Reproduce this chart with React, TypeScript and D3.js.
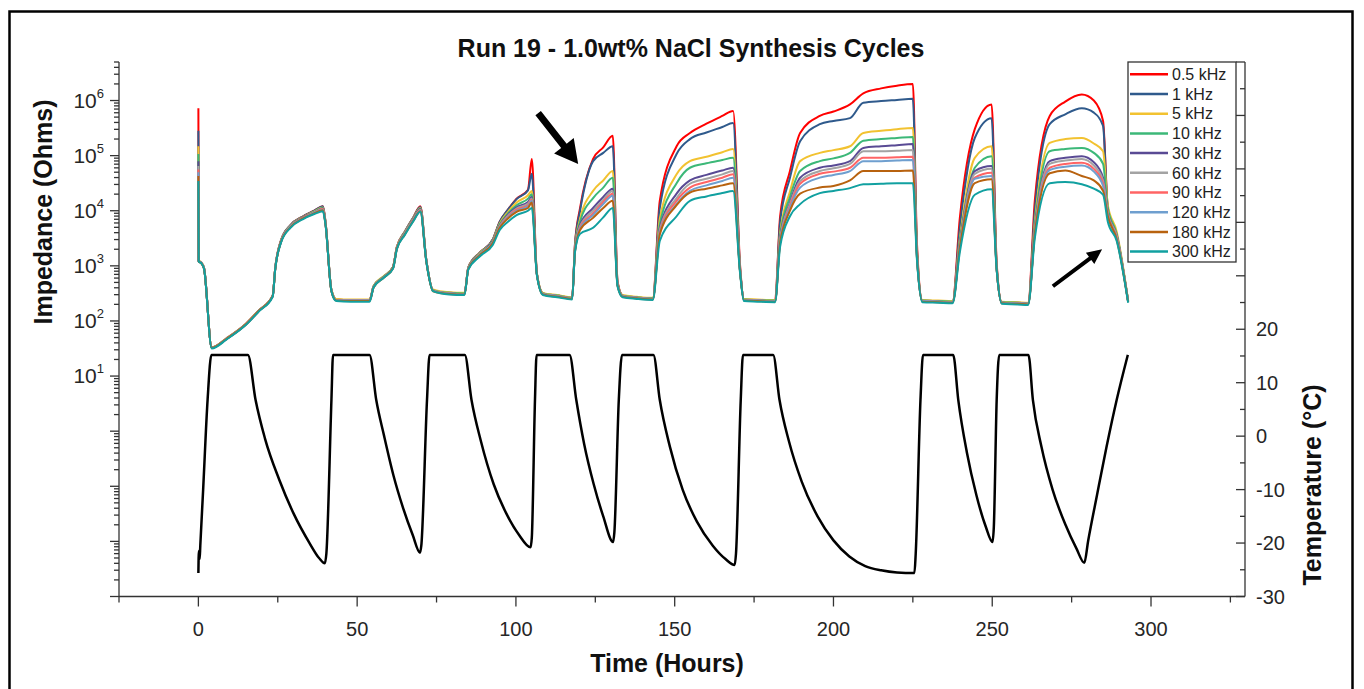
import * as d3 from "d3";

// time axis shared by all impedance series (hours)
const hours = [0, 0.1, 1.0, 1.8, 4.2, 9, 15, 19, 23.4,
  24.2, 26, 29, 33, 36.5, 39.2, 40, 41.9, 43.4, 48, 53.9,
  55.2, 58.5, 61.3, 62.5, 65, 67.6, 69.9, 71.8, 73.9, 79, 83.8,
  85, 88.6, 92.7, 94.9, 97.5, 100.2, 103.8, 105, 106.6, 108.5, 113, 117.7,
  118.6, 120.2, 124.3, 127.5, 130.5, 132, 133.6, 138, 143.1,
  145.3, 150.6, 154.8, 160, 165, 168.4, 170.6, 171.8, 176, 181.6,
  183.2, 186.3, 189.5, 195.7, 200, 205.2, 209.4, 215, 220, 225, 226.3, 228, 233, 237.5,
  239.8, 244.5, 249.8, 251.4, 253, 258, 261.3,
  263.4, 268.1, 273, 278.2, 282, 284.9, 286.4, 289.2, 292.8];

// impedance, log10(Ohms)
const z05 = [5.86, 3.09, 3.05, 2.95, 1.52, 1.69, 1.95, 2.19, 2.46,
  2.96, 3.46, 3.74, 3.90, 4.00, 4.08, 3.82, 2.56, 2.39, 2.38, 2.38,
  2.63, 2.81, 2.98, 3.34, 3.62, 3.87, 4.08, 3.10, 2.56, 2.51, 2.50,
  2.97, 3.24, 3.48, 3.80, 4.02, 4.22, 4.38, 4.94, 2.86, 2.50, 2.46, 2.42,
  3.40, 4.05, 4.94, 5.15, 5.36, 2.72, 2.46, 2.43, 2.41,
  4.18, 5.17, 5.41, 5.58, 5.72, 5.81, 3.00, 2.39, 2.38, 2.37,
  3.90, 4.72, 5.41, 5.72, 5.80, 5.93, 6.13, 6.22, 6.27, 6.30, 3.40, 2.37, 2.36, 2.35,
  3.87, 5.48, 5.93, 3.05, 2.34, 2.33, 2.32,
  4.18, 5.72, 5.98, 6.11, 6.00, 5.63, 4.05, 3.55, 2.36];
const z1 = [5.45, 3.09, 3.05, 2.95, 1.52, 1.69, 1.95, 2.19, 2.46,
  2.96, 3.46, 3.74, 3.90, 4.00, 4.08, 3.81, 2.56, 2.39, 2.38, 2.38,
  2.63, 2.81, 2.98, 3.34, 3.62, 3.87, 4.07, 3.10, 2.56, 2.51, 2.50,
  2.97, 3.24, 3.48, 3.80, 4.02, 4.21, 4.37, 4.67, 2.86, 2.50, 2.46, 2.42,
  3.38, 4.00, 4.90, 5.05, 5.17, 2.70, 2.46, 2.43, 2.41,
  4.05, 5.03, 5.30, 5.42, 5.52, 5.59, 2.95, 2.39, 2.38, 2.37,
  3.80, 4.60, 5.26, 5.57, 5.63, 5.68, 5.96, 5.99, 6.01, 6.03, 3.30, 2.37, 2.36, 2.35,
  3.70, 5.32, 5.68, 3.00, 2.34, 2.33, 2.32,
  4.00, 5.57, 5.75, 5.86, 5.78, 5.54, 4.02, 3.55, 2.36];
const z5 = [5.17, 3.10, 3.06, 2.96, 1.52, 1.69, 1.95, 2.19, 2.46,
  2.96, 3.45, 3.73, 3.89, 3.99, 4.06, 3.80, 2.57, 2.40, 2.39, 2.39,
  2.64, 2.82, 2.98, 3.34, 3.61, 3.86, 4.05, 3.10, 2.57, 2.52, 2.51,
  2.97, 3.23, 3.46, 3.77, 3.98, 4.15, 4.28, 4.36, 2.87, 2.51, 2.47, 2.43,
  3.34, 3.85, 4.36, 4.55, 4.72, 2.68, 2.47, 2.44, 2.42,
  3.85, 4.66, 4.90, 4.98, 5.06, 5.12, 2.92, 2.40, 2.39, 2.38,
  3.60, 4.35, 4.90, 5.05, 5.10, 5.17, 5.41, 5.45, 5.48, 5.50, 3.25, 2.38, 2.37, 2.36,
  3.50, 4.96, 5.17, 2.98, 2.35, 2.34, 2.33,
  3.80, 5.23, 5.30, 5.32, 5.22, 5.08, 4.10, 3.62, 2.37];
const z10 = [5.03, 3.09, 3.05, 2.95, 1.51, 1.68, 1.94, 2.18, 2.45,
  2.95, 3.45, 3.73, 3.88, 3.98, 4.05, 3.80, 2.56, 2.38, 2.37, 2.38,
  2.63, 2.81, 2.98, 3.33, 3.60, 3.85, 4.04, 3.09, 2.56, 2.51, 2.50,
  2.96, 3.22, 3.45, 3.75, 3.95, 4.10, 4.22, 4.30, 2.86, 2.50, 2.46, 2.42,
  3.32, 3.80, 4.23, 4.42, 4.60, 2.67, 2.46, 2.43, 2.41,
  3.75, 4.50, 4.78, 4.86, 4.92, 4.96, 2.92, 2.39, 2.38, 2.37,
  3.55, 4.25, 4.72, 4.90, 4.95, 5.05, 5.27, 5.30, 5.32, 5.34, 3.22, 2.37, 2.36, 2.35,
  3.45, 4.78, 4.99, 2.97, 2.34, 2.33, 2.32,
  3.72, 5.08, 5.12, 5.14, 5.05, 4.85, 4.05, 3.58, 2.36];
const z30 = [4.90, 3.09, 3.05, 2.95, 1.51, 1.68, 1.94, 2.18, 2.45,
  2.95, 3.44, 3.72, 3.88, 3.97, 4.04, 3.79, 2.55, 2.38, 2.37, 2.37,
  2.62, 2.80, 2.97, 3.33, 3.59, 3.84, 4.03, 3.09, 2.55, 2.50, 2.49,
  2.96, 3.21, 3.44, 3.73, 3.93, 4.06, 4.16, 4.25, 2.85, 2.49, 2.45, 2.41,
  3.30, 3.75, 4.05, 4.25, 4.40, 2.66, 2.45, 2.42, 2.40,
  3.68, 4.31, 4.55, 4.65, 4.73, 4.78, 2.90, 2.38, 2.37, 2.36,
  3.50, 4.15, 4.60, 4.78, 4.82, 4.90, 5.14, 5.17, 5.19, 5.21, 3.20, 2.36, 2.35, 2.34,
  3.40, 4.72, 4.81, 2.95, 2.33, 2.32, 2.31,
  3.66, 4.90, 4.96, 4.99, 4.88, 4.60, 3.98, 3.55, 2.35];
const z60 = [4.81, 3.09, 3.05, 2.95, 1.51, 1.68, 1.94, 2.18, 2.45,
  2.95, 3.44, 3.72, 3.87, 3.97, 4.03, 3.79, 2.55, 2.38, 2.37, 2.37,
  2.62, 2.80, 2.97, 3.32, 3.59, 3.83, 4.02, 3.08, 2.55, 2.50, 2.49,
  2.95, 3.21, 3.43, 3.72, 3.91, 4.04, 4.13, 4.22, 2.85, 2.49, 2.45, 2.41,
  3.29, 3.72, 4.00, 4.20, 4.36, 2.66, 2.45, 2.42, 2.40,
  3.65, 4.23, 4.49, 4.58, 4.66, 4.72, 2.90, 2.38, 2.37, 2.36,
  3.48, 4.12, 4.54, 4.72, 4.77, 4.85, 5.08, 5.08, 5.09, 5.10, 3.18, 2.36, 2.35, 2.34,
  3.38, 4.67, 4.76, 2.95, 2.33, 2.32, 2.31,
  3.64, 4.85, 4.91, 4.94, 4.82, 4.55, 3.96, 3.54, 2.35];
const z90 = [4.75, 3.09, 3.05, 2.95, 1.51, 1.68, 1.94, 2.18, 2.45,
  2.95, 3.44, 3.71, 3.87, 3.96, 4.03, 3.78, 2.55, 2.38, 2.37, 2.37,
  2.62, 2.80, 2.96, 3.32, 3.58, 3.83, 4.01, 3.08, 2.55, 2.50, 2.49,
  2.95, 3.20, 3.42, 3.71, 3.89, 4.02, 4.10, 4.20, 2.85, 2.49, 2.45, 2.41,
  3.28, 3.70, 3.95, 4.16, 4.31, 2.65, 2.45, 2.42, 2.40,
  3.62, 4.18, 4.42, 4.52, 4.60, 4.66, 2.90, 2.38, 2.37, 2.36,
  3.46, 4.08, 4.49, 4.67, 4.71, 4.78, 4.96, 4.96, 4.97, 4.98, 3.16, 2.36, 2.35, 2.34,
  3.36, 4.60, 4.69, 2.94, 2.33, 2.32, 2.31,
  3.62, 4.78, 4.85, 4.87, 4.76, 4.50, 3.94, 3.52, 2.35];
const z120 = [4.70, 3.09, 3.05, 2.95, 1.51, 1.68, 1.94, 2.18, 2.45,
  2.95, 3.43, 3.71, 3.86, 3.96, 4.02, 3.78, 2.55, 2.38, 2.37, 2.37,
  2.62, 2.80, 2.96, 3.31, 3.58, 3.82, 4.00, 3.08, 2.55, 2.50, 2.49,
  2.95, 3.20, 3.42, 3.70, 3.88, 4.00, 4.08, 4.18, 2.85, 2.49, 2.45, 2.41,
  3.27, 3.68, 3.92, 4.12, 4.27, 2.65, 2.45, 2.42, 2.40,
  3.60, 4.12, 4.36, 4.46, 4.54, 4.60, 2.90, 2.38, 2.37, 2.36,
  3.45, 4.05, 4.42, 4.60, 4.65, 4.72, 4.90, 4.90, 4.91, 4.92, 3.15, 2.36, 2.35, 2.34,
  3.35, 4.58, 4.63, 2.94, 2.33, 2.32, 2.31,
  3.60, 4.74, 4.80, 4.82, 4.71, 4.45, 3.92, 3.50, 2.35];
const z180 = [4.63, 3.08, 3.04, 2.94, 1.51, 1.68, 1.94, 2.18, 2.45,
  2.94, 3.43, 3.70, 3.86, 3.95, 4.01, 3.77, 2.54, 2.37, 2.36, 2.36,
  2.61, 2.79, 2.96, 3.31, 3.57, 3.81, 3.99, 3.07, 2.54, 2.49, 2.48,
  2.94, 3.19, 3.41, 3.69, 3.86, 3.98, 4.05, 4.15, 2.84, 2.48, 2.44, 2.40,
  3.26, 3.65, 3.87, 4.05, 4.18, 2.64, 2.44, 2.41, 2.39,
  3.57, 4.10, 4.33, 4.40, 4.46, 4.50, 2.88, 2.37, 2.36, 2.35,
  3.42, 4.00, 4.31, 4.42, 4.45, 4.55, 4.72, 4.72, 4.72, 4.73, 3.14, 2.35, 2.34, 2.33,
  3.33, 4.50, 4.57, 2.93, 2.32, 2.31, 2.30,
  3.58, 4.68, 4.73, 4.63, 4.55, 4.36, 3.90, 3.48, 2.34];
const z300 = [4.54, 3.08, 3.04, 2.94, 1.50, 1.67, 1.93, 2.17, 2.44,
  2.94, 3.42, 3.69, 3.85, 3.94, 3.99, 3.76, 2.54, 2.36, 2.35, 2.35,
  2.61, 2.79, 2.95, 3.30, 3.56, 3.80, 3.98, 3.07, 2.54, 2.48, 2.47,
  2.93, 3.17, 3.38, 3.65, 3.80, 3.92, 4.00, 4.05, 2.83, 2.47, 2.43, 2.39,
  3.25, 3.58, 3.69, 3.88, 4.05, 2.63, 2.43, 2.40, 2.38,
  3.45, 3.90, 4.18, 4.26, 4.32, 4.36, 2.86, 2.36, 2.35, 2.34,
  3.35, 3.90, 4.12, 4.32, 4.36, 4.41, 4.48, 4.49, 4.50, 4.50, 3.10, 2.34, 2.33, 2.32,
  3.25, 4.29, 4.39, 2.92, 2.31, 2.30, 2.29,
  3.50, 4.50, 4.52, 4.48, 4.40, 4.29, 3.80, 3.45, 2.33];

const labels = ["0.5 kHz", "1 kHz", "5 kHz", "10 kHz", "30 kHz", "60 kHz", "90 kHz", "120 kHz", "180 kHz", "300 kHz"];
const colors = ["#ff0000", "#2f5a8c", "#f2c230", "#3cb878", "#594a94", "#a3a3a3", "#ff6464", "#6f9fcf", "#b8620f", "#11a0a0"];
const impedance = [z05, z1, z5, z10, z30, z60, z90, z120, z180, z300];

// temperature (°C)
const tempHours = [0, 0.15, 0.4, 0.6, 1.5, 2.9, 4.1,
  15.6, 18, 21, 25.5, 30, 35, 38, 39.8, 40.3, 41.9, 42.4, 53.9,
  56, 58.5, 61.5, 64.5, 67.5, 69.8, 70.2, 72, 72.8, 83.9,
  86, 89, 93, 97, 101, 104.6, 105, 106, 106.5, 116.9,
  119, 121.5, 124.5, 127.5, 130.6, 131, 132.4, 133.4, 143.3,
  145.3, 148.5, 152.5, 157, 162, 166, 168.9, 169.3, 170.8, 171.5, 181,
  183, 186, 190, 195, 200, 205, 210, 215, 220, 225.5, 225.9, 227.4, 228.2, 237.7,
  239.3, 242, 245, 248, 250.1, 250.5, 251.4, 252.2, 261.4,
  262.8, 265.5, 269, 273, 276.5, 279, 280.2, 283, 286, 289.2, 292.7];
const tempC = [-25.6, -21.5, -23, -20.5, -10, 6.8, 15.2,
  15.2, 6.8, -0.5, -8.2, -14.5, -20, -22.8, -23.8, -22, 6.8, 15.2, 15.2,
  6.8, 0, -7.5, -13.5, -18.5, -21.8, -20.5, 6.8, 15.2, 15.2,
  6.8, -1, -9, -14.5, -18.5, -20.8, -19, 6.8, 15.2, 15.2,
  6.8, -1.5, -9, -15, -19.8, -18, 6.8, 15.2, 15.2,
  6.8, -2, -10, -16, -20.5, -23, -24.1, -22, 6.8, 15.2, 15.2,
  6.8, -1, -8.5, -15, -19.5, -22.5, -24.3, -25.1, -25.5, -25.6, -22, 6.8, 15.2, 15.2,
  6.8, -3, -11, -17, -19.8, -17, 6.8, 15.2, 15.2,
  6.8, -2, -10, -16.5, -21, -23.7, -19.6, -11, -2, 6.8, 15.2];

const xTicks = [0, 50, 100, 150, 200, 250, 300];
const xMinorTicks = [-25, 25, 75, 125, 175, 225, 275, 325];
const zDecades = [-3, -2, -1, 0, 1, 2, 3, 4, 5, 6];
const zLabelDecades = [1, 2, 3, 4, 5, 6];
const tTicks = [-30, -20, -10, 0, 10, 20, 30, 40, 50, 60, 70];
const tLabels = [-30, -20, -10, 0, 10, 20];

const font = "'Liberation Sans', Arial, sans-serif";

function arrow(x1, y1, x2, y2, shaft, headLen, headW) {
  const dx = x2 - x1, dy = y2 - y1;
  const len = Math.hypot(dx, dy);
  const ux = dx / len, uy = dy / len;
  const nx = -uy, ny = ux;
  const bx = x2 - ux * headLen, by = y2 - uy * headLen;
  const pts = [
    [x1 + nx * shaft / 2, y1 + ny * shaft / 2],
    [bx + nx * shaft / 2, by + ny * shaft / 2],
    [bx + nx * headW / 2, by + ny * headW / 2],
    [x2, y2],
    [bx - nx * headW / 2, by - ny * headW / 2],
    [bx - nx * shaft / 2, by - ny * shaft / 2],
    [x1 - nx * shaft / 2, y1 - ny * shaft / 2],
  ];
  return pts.map((p) => p.join(",")).join(" ");
}

export default function App() {
  const left = 119, right = 1245, top = 62, bottom = 596.5;
  const x = d3.scaleLinear().domain([-25, 329.6]).range([left, right]);
  const yZ = d3.scaleLog().domain([1e-3, 5e6]).range([bottom, top]);
  const yT = d3.scaleLinear().domain([-30, 70]).range([bottom, top]);

  const zLine = d3
    .line()
    .curve(d3.curveMonotoneX)
    .x((d) => x(d[0]))
    .y((d) => yZ(d[1]));
  const tLine = d3
    .line()
    .curve(d3.curveMonotoneX)
    .x((d) => x(d[0]))
    .y((d) => yT(d[1]));

  const zMinor = [];
  zDecades.forEach((k) => {
    for (let m = 2; m <= 9; m++) {
      const v = m * Math.pow(10, k);
      if (v <= 5e6) zMinor.push(v);
    }
  });
  const tMinor = d3.range(-25, 70, 10);

  const axisCol = "#333";
  const tickCol = "#262626";

  return (
    <svg
      width={1364}
      height={689}
      style={{ position: "absolute", left: 0, top: 0, display: "block", background: "#fff" }}
      fontFamily={font}
    >
      <rect x={9.5} y={11.5} width={1343} height={700} fill="none" stroke="#000" strokeWidth={2.5} />

      <text x={691} y={57} textAnchor="middle" fontSize={25} fontWeight="bold" fill="#111">
        Run 19 - 1.0wt% NaCl Synthesis Cycles
      </text>

      {/* impedance series */}
      <g fill="none" strokeWidth={2} strokeLinejoin="round">
        {impedance.map((vals, i) => (
          <path
            key={labels[i]}
            d={zLine(vals.map((v, j) => [hours[j], Math.pow(10, v)]))}
            stroke={colors[i]}
          />
        ))}
      </g>

      {/* temperature */}
      <path
        d={tLine(tempHours.map((h, j) => [h, tempC[j]]))}
        fill="none"
        stroke="#000"
        strokeWidth={2.5}
        strokeLinejoin="round"
      />

      {/* arrows */}
      <polygon points={arrow(x(107), yZ(Math.pow(10, 5.77)), x(119.6), yZ(Math.pow(10, 4.85)), 7, 23, 25)} fill="#000" />
      <polygon points={arrow(x(269.1), yZ(Math.pow(10, 2.63)), x(284.6), yZ(Math.pow(10, 3.3)), 4, 15, 14)} fill="#000" />

      {/* left axis */}
      <g stroke={axisCol} strokeWidth={1.3}>
        <line x1={left} x2={left} y1={top} y2={bottom} />
        {zDecades.map((k) => (
          <line key={k} x1={left - 9} x2={left} y1={yZ(Math.pow(10, k))} y2={yZ(Math.pow(10, k))} />
        ))}
        {zMinor.map((v) => (
          <line key={v} x1={left - 5} x2={left} y1={yZ(v)} y2={yZ(v)} />
        ))}
      </g>
      {zLabelDecades.map((k) => (
        <text key={k} x={104} y={yZ(Math.pow(10, k)) + 7} textAnchor="end" fontSize={21} fill={tickCol}>
          10
          <tspan dy={-10} fontSize={13}>
            {k}
          </tspan>
        </text>
      ))}

      {/* bottom axis */}
      <g stroke={axisCol} strokeWidth={1.3}>
        <line x1={left} x2={right} y1={bottom} y2={bottom} />
        {xTicks.map((t) => (
          <line key={t} x1={x(t)} x2={x(t)} y1={bottom} y2={bottom + 10} />
        ))}
        {xMinorTicks.map((t) => (
          <line key={t} x1={x(t)} x2={x(t)} y1={bottom} y2={bottom + 6} />
        ))}
      </g>
      {xTicks.map((t) => (
        <text key={t} x={x(t)} y={636} textAnchor="middle" fontSize={20} fill={tickCol}>
          {t}
        </text>
      ))}

      {/* right axis */}
      <g stroke={axisCol} strokeWidth={1.3}>
        <line x1={right} x2={right} y1={top} y2={bottom} />
        {tTicks.map((t) => (
          <line key={t} x1={right - 9} x2={right} y1={yT(t)} y2={yT(t)} />
        ))}
        {tMinor.map((t) => (
          <line key={t} x1={right - 5} x2={right} y1={yT(t)} y2={yT(t)} />
        ))}
      </g>
      {tLabels.map((t) => (
        <text key={t} x={1256} y={yT(t)} dy="0.36em" fontSize={20} fill={tickCol}>
          {t}
        </text>
      ))}

      {/* axis titles */}
      <text transform="translate(52,212) rotate(-90)" textAnchor="middle" fontSize={25} fontWeight="bold" fill="#111">
        Impedance (Ohms)
      </text>
      <text transform="translate(1321,485) rotate(-90)" textAnchor="middle" fontSize={25} fontWeight="bold" fill="#111">
        Temperature (°C)
      </text>
      <text x={667} y={672} textAnchor="middle" fontSize={25} fontWeight="bold" fill="#111">
        Time (Hours)
      </text>

      {/* legend */}
      <g>
        <rect x={1128} y={62} width={108} height={200} fill="#fff" stroke={axisCol} strokeWidth={1.3} />
        {labels.map((lab, i) => {
          const ly = 74.3 + i * 19.7;
          return (
            <g key={lab}>
              <line x1={1130} x2={1168} y1={ly} y2={ly} stroke={colors[i]} strokeWidth={2.5} />
              <text x={1172} y={ly} dy="0.36em" fontSize={16} fill="#222">
                {lab}
              </text>
            </g>
          );
        })}
      </g>
    </svg>
  );
}
